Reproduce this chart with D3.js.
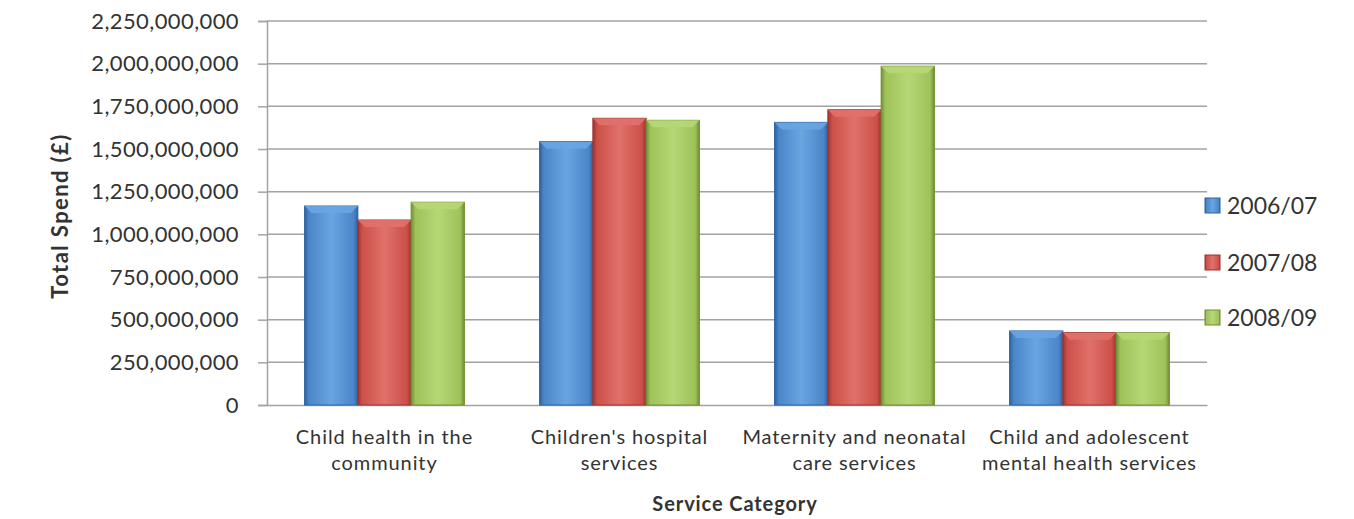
<!DOCTYPE html>
<html>
<head>
<meta charset="utf-8">
<script src="https://cdn.jsdelivr.net/npm/d3@7"></script>
<style>
  body { margin: 0; background: #fff; }
  svg { font-family: Lato, "Open Sans", sans-serif; }
</style>
</head>
<body>
<div id="chart"></div>
<script>
// categories & series
const categories = [
  ["Child health in the", "community"],
  ["Children's hospital", "services"],
  ["Maternity and neonatal", "care services"],
  ["Child and adolescent", "mental health services"]
];
const years = ["2006/07", "2007/08", "2008/09"];
const spend0607 = [1166000000, 1543000000, 1656000000, 434000000];
const spend0708 = [1084000000, 1680000000, 1730000000, 424000000];
const spend0809 = [1188000000, 1668000000, 1985000000, 424000000];
const yTicks = [0, 250e6, 500e6, 750e6, 1000e6, 1250e6, 1500e6, 1750e6, 2000e6, 2250e6];

const seriesColors = [
  {base: '#4a86c8', light: '#6aa5e2', dark: '#2f62a0'},
  {base: '#cc5049', light: '#e0716a', dark: '#9c3330'},
  {base: '#9fc25a', light: '#b6d775', dark: '#6f8f35'}
];

const width = 1354, height = 519;
const margin = {top: 21, bottom: 114, left: 267, right: 147};

const svg = d3.select('#chart').append('svg').attr('width', width).attr('height', height);
const defs = svg.append('defs');

seriesColors.forEach((c, i) => {
  let g = defs.append('linearGradient').attr('id', 'grad' + i).attr('x1', 0).attr('x2', 1).attr('y1', 0).attr('y2', 0);
  g.append('stop').attr('offset', '0%').attr('stop-color', c.dark);
  g.append('stop').attr('offset', '8%').attr('stop-color', c.base);
  g.append('stop').attr('offset', '50%').attr('stop-color', c.light);
  g.append('stop').attr('offset', '92%').attr('stop-color', c.base);
  g.append('stop').attr('offset', '100%').attr('stop-color', c.dark);
});

const data = categories.map((c, i) => ({
  cat: c.join(' '),
  lines: c,
  values: [spend0607[i], spend0708[i], spend0809[i]]
}));

const x0 = d3.scaleBand()
  .domain(data.map(d => d.cat))
  .range([margin.left, width - margin.right])
  .paddingInner(0.32).paddingOuter(0.16);
const x1 = d3.scaleBand().domain(years).range([0, x0.bandwidth()]).padding(0);
const y = d3.scaleLinear().domain([0, 2250e6]).range([height - margin.bottom, margin.top]);

// grid
svg.append('g').selectAll('line')
  .data(yTicks.slice(1)).enter().append('line')
  .attr('x1', margin.left).attr('x2', width - margin.right)
  .attr('y1', d => y(d)).attr('y2', d => y(d))
  .attr('stroke', '#a2a2a2').attr('stroke-width', 1.5);

// y axis
const yAxis = d3.axisLeft(y).tickValues(yTicks).tickSize(9).tickPadding(19)
  .tickFormat(d3.format(','));
const yg = svg.append('g').attr('transform', 'translate(' + margin.left + ',0)').call(yAxis);
yg.select('.domain').attr('stroke', '#a2a2a2').attr('stroke-width', 1.5);
yg.selectAll('.tick line').attr('stroke', '#a2a2a2').attr('stroke-width', 1.5);
yg.selectAll('.tick text').attr('font-size', 22).attr('letter-spacing', 0.4).attr('fill', '#333').attr('font-family', 'Lato');

// x axis
const xg = svg.append('g').attr('transform', 'translate(0,' + y(0) + ')')
  .call(d3.axisBottom(x0).tickSize(0).tickFormat(''));
xg.select('.domain').attr('stroke', '#a2a2a2').attr('stroke-width', 1.5);

// bars
const groups = svg.append('g').selectAll('g')
  .data(data).enter().append('g')
  .attr('transform', d => 'translate(' + x0(d.cat) + ',0)');

const bars = groups.selectAll('g')
  .data(d => d.values.map((v, i) => ({year: years[i], value: v, i: i})))
  .enter().append('g');

bars.append('rect')
  .attr('x', d => x1(d.year))
  .attr('y', d => y(d.value))
  .attr('width', x1.bandwidth())
  .attr('height', d => y(0) - y(d.value))
  .attr('fill', d => 'url(#grad' + d.i + ')')
  .attr('stroke', d => seriesColors[d.i].dark).attr('stroke-width', 1);

// top bevel highlight
bars.append('path')
  .attr('d', d => {
    let xl = x1(d.year), xr = xl + x1.bandwidth(), yt = y(d.value);
    return 'M' + xl + ',' + yt + 'L' + xr + ',' + yt + 'L' + (xr - 7) + ',' + (yt + 7) + 'L' + (xl + 7) + ',' + (yt + 7) + 'Z';
  })
  .attr('fill', d => seriesColors[d.i].light).attr('opacity', 0.9);

// category labels
svg.append('g').selectAll('text')
  .data(data).enter().append('text')
  .attr('x', d => x0(d.cat) + x0.bandwidth() / 2)
  .attr('y', y(0) + 39)
  .attr('text-anchor', 'middle')
  .attr('font-size', 20).attr('letter-spacing', 0.9).attr('fill', '#333')
  .selectAll('tspan').data(d => d.lines).enter().append('tspan')
  .attr('x', function() { return d3.select(this.parentNode).attr('x'); })
  .attr('dy', (d, i) => i === 0 ? 0 : 26)
  .text(d => d);

// axis titles
svg.append('text')
  .attr('transform', 'translate(68,' + 216 + ') rotate(-90)')
  .attr('text-anchor', 'middle').attr('font-size', 22).attr('letter-spacing', 1.4)
  .attr('font-weight', 'bold').attr('fill', '#333')
  .text('Total Spend (£)');

svg.append('text')
  .attr('x', 735).attr('y', 511)
  .attr('text-anchor', 'middle').attr('font-size', 20).attr('letter-spacing', 0.9)
  .attr('font-weight', 'bold').attr('fill', '#333')
  .text('Service Category');

// legend
const legend = svg.append('g').selectAll('g')
  .data(years).enter().append('g')
  .attr('transform', (d, i) => 'translate(1205,' + [206, 263, 318][i] + ')');
legend.append('rect')
  .attr('x', 0).attr('y', -8).attr('width', 15).attr('height', 15)
  .attr('fill', (d, i) => 'url(#grad' + i + ')')
  .attr('stroke', (d, i) => seriesColors[i].dark);
legend.append('text')
  .attr('x', 22).attr('y', 8)
  .attr('font-size', 23).attr('fill', '#333')
  .text(d => d);
</script>
</body>
</html>
